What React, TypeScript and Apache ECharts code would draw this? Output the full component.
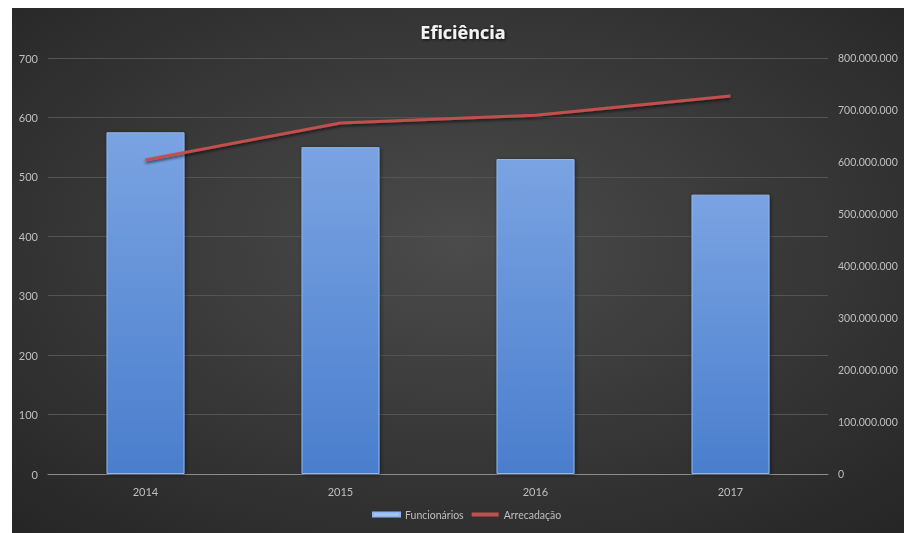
import React, { useEffect, useRef } from "react";
import * as echarts from "echarts";

const categories = ["2014", "2015", "2016", "2017"];
const funcionarios = [575, 550, 530, 470];
const arrecadacao = [604000000, 675000000, 690000000, 727000000];

const fmt = (v: number) =>
  String(Math.round(v)).replace(/\B(?=(\d{3})+(?!\d))/g, ".");

export default function App() {
  const ref = useRef<HTMLDivElement>(null);
  useEffect(() => {
    if (!ref.current) return;
    const chart = echarts.init(ref.current, undefined, { renderer: "svg" });
    const font = "Lato, 'Open Sans', sans-serif";
    chart.setOption({
      animation: false,
      backgroundColor: {
        type: "radial",
        x: 0.5,
        y: 0.45,
        r: 0.75,
        colorStops: [
          { offset: 0, color: "#4b4b4b" },
          { offset: 1, color: "#252525" },
        ],
      },
      title: {
        text: "Eficiência",
        left: 446,
        top: 10,
        textAlign: "center",
        textStyle: {
          color: "#f2f2f2",
          fontSize: 18,
          fontWeight: "bold",
          fontFamily: "'Open Sans', sans-serif",
          textShadowColor: "rgba(0,0,0,0.8)",
          textShadowBlur: 3,
          textShadowOffsetX: 1,
          textShadowOffsetY: 1,
        },
      },
      legend: {
        bottom: 8,
        left: 355,
        itemGap: 8,
        itemWidth: 27,
        itemHeight: 4,
        textStyle: { color: "#bfbfbf", fontSize: 10.5, fontFamily: font },
        data: [
          { name: "Funcionários", icon: "rect", itemStyle: { color: "#a9c8f5" } },
          { name: "Arrecadação", icon: "rect", itemStyle: { color: "#c0504d" } },
        ],
      },
      grid: { left: 36, right: 76, top: 50, bottom: 59 },
      xAxis: {
        type: "category",
        data: categories,
        axisTick: { show: false },
        axisLine: { lineStyle: { color: "#8c8c8c", width: 1 } },
        axisLabel: { color: "#bfbfbf", fontSize: 11, fontFamily: font, margin: 12 },
      },
      yAxis: [
        {
          type: "value",
          min: 0,
          max: 700,
          interval: 100,
          axisLine: { show: false },
          axisTick: { show: false },
          splitLine: { lineStyle: { color: "#545454", width: 1 } },
          axisLabel: { color: "#bfbfbf", fontSize: 11, fontFamily: font, margin: 10 },
        },
        {
          type: "value",
          min: 0,
          max: 800000000,
          interval: 100000000,
          position: "right",
          axisLine: { show: false },
          axisTick: { show: false },
          splitLine: { show: false },
          axisLabel: {
            color: "#bfbfbf",
            fontSize: 10.5,
            fontFamily: font,
            margin: 10,
            formatter: (v: number) => fmt(v),
          },
        },
      ],
      series: [
        {
          name: "Funcionários",
          type: "bar",
          data: funcionarios,
          barWidth: "40%",
          itemStyle: {
            color: {
              type: "linear",
              x: 0,
              y: 0,
              x2: 0,
              y2: 1,
              colorStops: [
                { offset: 0, color: "#7aa3e2" },
                { offset: 1, color: "#4a7ecd" },
              ],
            },
            borderColor: "#8fb6ee",
            borderWidth: 1,
            shadowColor: "rgba(0,0,0,0.5)",
            shadowBlur: 4,
            shadowOffsetX: 1,
            shadowOffsetY: 1,
          },
        },
        {
          name: "Arrecadação",
          type: "line",
          yAxisIndex: 1,
          data: arrecadacao,
          symbol: "none",
          lineStyle: {
            color: "#c0504d",
            width: 3,
            shadowColor: "rgba(0,0,0,0.6)",
            shadowBlur: 3,
            shadowOffsetY: 2,
          },
          itemStyle: { color: "#c0504d" },
        },
      ],
    });
    return () => chart.dispose();
  }, []);
  return (
    <div
      ref={ref}
      style={{ position: "fixed", left: 12, top: 8, width: 892, height: 525 }}
    />
  );
}
